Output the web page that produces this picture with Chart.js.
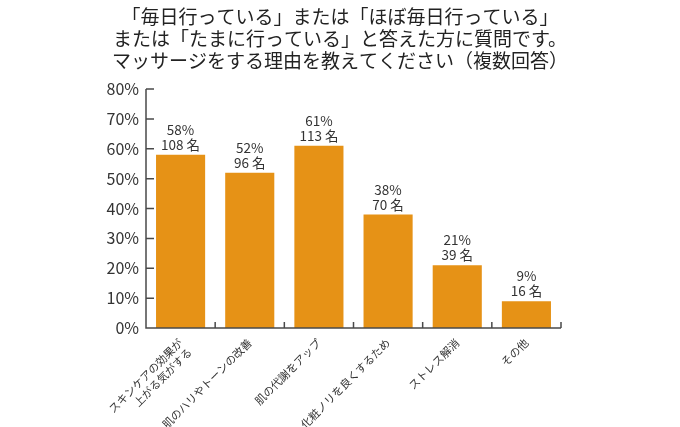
<!DOCTYPE html>
<html>
<head>
<meta charset="utf-8">
<script src="https://cdn.jsdelivr.net/npm/chart.js@4/dist/chart.umd.min.js"></script>
<style>
  html, body { margin: 0; padding: 0; background: #fff; }
  #wrap { width: 680px; height: 427px; }
</style>
</head>
<body>
<div id="wrap"><canvas id="chart" width="680" height="427"></canvas></div>
<script>
const titleLines = [
  "「毎日行っている」または「ほぼ毎日行っている」",
  "または「たまに行っている」と答えた方に質問です。",
  "マッサージをする理由を教えてください（複数回答）"
];
const categories = [
  ["スキンケアの効果が", "上がる気がする"],
  "肌のハリやトーンの改善",
  "肌の代謝をアップ",
  "化粧ノリを良くするため",
  "ストレス解消",
  "その他"
];
const percents = [58, 52, 61, 38, 21, 9];
const counts = [108, 96, 113, 70, 39, 16];
const yTicks = [0, 10, 20, 30, 40, 50, 60, 70, 80];

const FONT = "'Noto Sans CJK JP', 'Noto Sans', sans-serif";
const AXIS = "#4a4a4a";

// inward tick marks + value labels
const decor = {
  id: "decor",
  afterDatasetsDraw(chart) {
    const ctx = chart.ctx;
    const x = chart.scales.x, y = chart.scales.y;
    ctx.save();
    ctx.strokeStyle = AXIS;
    ctx.lineWidth = 1.5;
    ctx.beginPath();
    const n = categories.length;
    for (let i = 1; i <= n; i++) {
      const px = x.left + (x.right - x.left) * i / n;
      ctx.moveTo(px, y.bottom);
      ctx.lineTo(px, y.bottom - 6);
    }
    yTicks.forEach(v => {
      if (v === 0) return;
      const py = y.getPixelForValue(v);
      ctx.moveTo(x.left, py);
      ctx.lineTo(x.left + 8, py);
    });
    ctx.stroke();
    // axis lines on top of bars
    ctx.beginPath();
    ctx.moveTo(x.left, y.top);
    ctx.lineTo(x.left, y.bottom);
    ctx.lineTo(x.right, y.bottom);
    ctx.stroke();

    ctx.fillStyle = "#333";
    ctx.font = "13.5px " + FONT;
    ctx.textAlign = "center";
    ctx.textBaseline = "alphabetic";
    const meta = chart.getDatasetMeta(0);
    meta.data.forEach((bar, i) => {
      ctx.fillText(counts[i] + " 名", bar.x, bar.y - 5);
      ctx.fillText(percents[i] + "%", bar.x, bar.y - 20);
    });
    ctx.restore();
  }
};

new Chart(document.getElementById("chart"), {
  type: "bar",
  data: {
    labels: categories,
    datasets: [{
      data: percents,
      backgroundColor: "#E69216",
      borderWidth: 0,
      barPercentage: 0.71,
      categoryPercentage: 1.0
    }]
  },
  options: {
    responsive: false,
    animation: false,
    devicePixelRatio: 1,
    layout: { padding: 0 },
    plugins: {
      legend: { display: false },
      tooltip: { enabled: false },
      title: {
        display: true,
        text: titleLines,
        color: "#222",
        font: { family: FONT, size: 19, weight: "normal", lineHeight: 1.16 },
        padding: { top: 6, bottom: 17 }
      }
    },
    scales: {
      x: {
        grid: { display: false },
        border: { display: false },
        ticks: {
          color: "#333",
          font: { family: FONT, size: 11 },
          minRotation: 45,
          maxRotation: 45,
          padding: 0,
          autoSkip: false
        },
        afterFit(scale) { scale.height = 99; }
      },
      y: {
        min: 0,
        max: 80,
        grid: { display: false, drawTicks: false },
        border: { display: false },
        afterBuildTicks(scale) { scale.ticks = yTicks.map(v => ({ value: v })); },
        ticks: {
          color: "#333",
          font: { family: FONT, size: 16 },
          padding: 7,
          callback: v => v + "%"
        },
        afterFit(scale) { scale.width = 146; }
      },
      // empty right-hand margin so the title centres on the full canvas
      yRight: {
        position: "right",
        display: true,
        grid: { display: false, drawTicks: false },
        border: { display: false },
        ticks: { display: false },
        afterFit(scale) { scale.width = 119; }
      }
    }
  },
  plugins: [decor]
});
</script>
</body>
</html>
